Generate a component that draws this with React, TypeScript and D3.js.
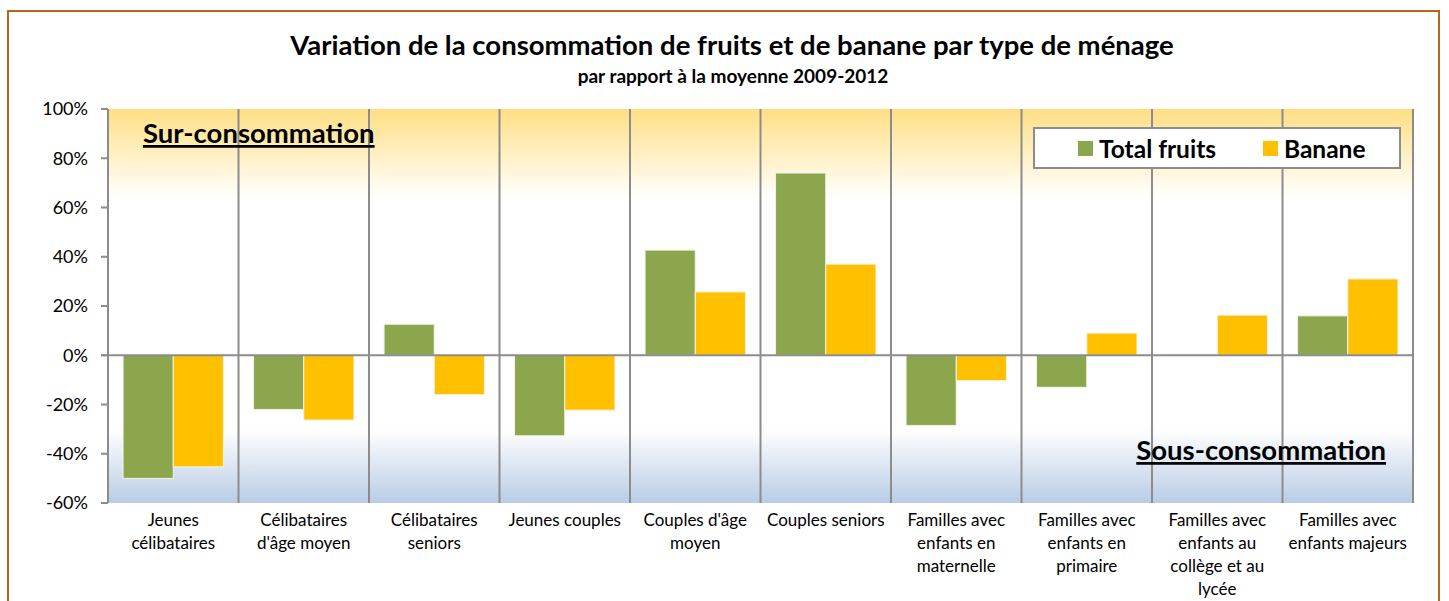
import React from 'react';
import * as d3 from 'd3';

// household types (x categories), one label line per array entry
const categories = [
    ['Jeunes', 'célibataires'],
    ['Célibataires', "d'âge moyen"],
    ['Célibataires', 'seniors'],
    ['Jeunes couples'],
    ["Couples d'âge", 'moyen'],
    ['Couples seniors'],
    ['Familles avec', 'enfants en', 'maternelle'],
    ['Familles avec', 'enfants en', 'primaire'],
    ['Familles avec', 'enfants au', 'collège et au', 'lycée'],
    ['Familles avec', 'enfants majeurs'],
];
const totalFruits = [-50, -22, 12.6, -32.7, 42.7, 74, -28.5, -13, 0.4, 16];
const banane = [-45.3, -26.3, -16, -22.3, 25.7, 37, -10.3, 9, 16.3, 31];
const seriesNames = ['Total fruits', 'Banane'];
const yTicks = [-60, -40, -20, 0, 20, 40, 60, 80, 100];

const colors = ['#8ba64d', '#ffc000'];
const font = 'Lato, "Open Sans", sans-serif';

const App = () => {
    const width = 1449;
    const height = 601;
    const margin = { top: 109, right: 36, bottom: 98, left: 108 };

    const x = d3.scaleBand<number>()
        .domain(d3.range(categories.length))
        .range([margin.left, width - margin.right]);
    // two bars per category, Excel-like gap width
    const xs = d3.scaleBand<number>()
        .domain([0, 1])
        .range([0, x.bandwidth()])
        .paddingInner(0)
        .paddingOuter(0.3);
    const y = d3.scaleLinear()
        .domain([-60, 100])
        .range([height - margin.bottom, margin.top]);

    const series = [totalFruits, banane];
    const plotW = width - margin.right - margin.left;

    return (
        <svg width={width} height={height} style={{ position: 'absolute', left: 0, top: 0, fontFamily: font }}>
            <defs>
                <linearGradient id="topGrad" x1="0" y1="0" x2="0" y2="1">
                    <stop offset="0" stopColor="#ffdf84" />
                    <stop offset="1" stopColor="#ffffff" />
                </linearGradient>
                <linearGradient id="botGrad" x1="0" y1="0" x2="0" y2="1">
                    <stop offset="0" stopColor="#ffffff" />
                    <stop offset="1" stopColor="#b9cce5" />
                </linearGradient>
            </defs>
            <rect x={0} y={0} width={width} height={height} fill="#fff" />
            <rect x={8} y={11} width={1431} height={620} fill="none" stroke="#b5651d" strokeWidth={2} />

            <text x={732} y={55} textAnchor="middle" fontSize={27.5} fontWeight="bold">
                Variation de la consommation de fruits et de banane par type de ménage
            </text>
            <text x={733} y={83} textAnchor="middle" fontSize={19} fontWeight="bold">
                par rapport à la moyenne 2009-2012
            </text>

            {/* background bands */}
            <rect x={margin.left} y={y(100)} width={plotW} height={y(64) - y(100)} fill="url(#topGrad)" />
            <rect x={margin.left} y={y(-30)} width={plotW} height={y(-60) - y(-30)} fill="url(#botGrad)" />

            {/* vertical separators */}
            {d3.range(categories.length + 1).map(i => {
                const gx = i < categories.length ? x(i)! : width - margin.right;
                return <line key={i} x1={gx} x2={gx} y1={y(100)} y2={y(-60)} stroke="#8c8c8c" strokeWidth={2} />;
            })}

            {/* bars */}
            {series.map((vals, s) => vals.map((v, i) => (
                <rect key={`${s}-${i}`}
                    x={x(i)! + xs(s)!}
                    y={y(Math.max(0, v))}
                    width={xs.bandwidth()}
                    height={Math.abs(y(v) - y(0))}
                    fill={colors[s]}
                    stroke="#f3f3e6" strokeWidth={1} />
            )))}

            {/* zero line and y axis */}
            <line x1={margin.left - 7} x2={width - margin.right} y1={y(0)} y2={y(0)} stroke="#8c8c8c" strokeWidth={2} />
            <line x1={margin.left} x2={margin.left} y1={y(100)} y2={y(-60)} stroke="#8c8c8c" strokeWidth={2} />
            {yTicks.map(t => (
                <g key={t}>
                    <line x1={margin.left - 7} x2={margin.left} y1={y(t)} y2={y(t)} stroke="#8c8c8c" strokeWidth={2} />
                    <text x={margin.left - 20} y={y(t)} dy="0.35em" textAnchor="end" fontSize={18}>{t}%</text>
                </g>
            ))}

            {/* category labels */}
            {categories.map((lines, i) => (
                <text key={i} x={x(i)! + x.bandwidth() / 2} y={526} textAnchor="middle" fontSize={17}>
                    {lines.map((l, k) => <tspan key={k} x={x(i)! + x.bandwidth() / 2} dy={k === 0 ? 0 : 23}>{l}</tspan>)}
                </text>
            ))}

            <text x={143} y={143} fontSize={27.5} fontWeight="bold" textDecoration="underline">Sur-consommation</text>
            <text x={1386} y={460} textAnchor="end" fontSize={27.5} fontWeight="bold" textDecoration="underline">Sous-consommation</text>

            {/* legend */}
            <rect x={1034} y={128} width={366} height={40} fill="#fff" stroke="#8c8c8c" strokeWidth={2} />
            {seriesNames.map((n, s) => {
                const lx = s === 0 ? 1078 : 1263;
                return (
                    <g key={n}>
                        <rect x={lx} y={141} width={15} height={15} fill={colors[s]} />
                        <text x={lx + 21} y={149} dy="0.35em" fontSize={24.5} fontWeight="bold">{n}</text>
                    </g>
                );
            })}
        </svg>
    );
};

export default App;
